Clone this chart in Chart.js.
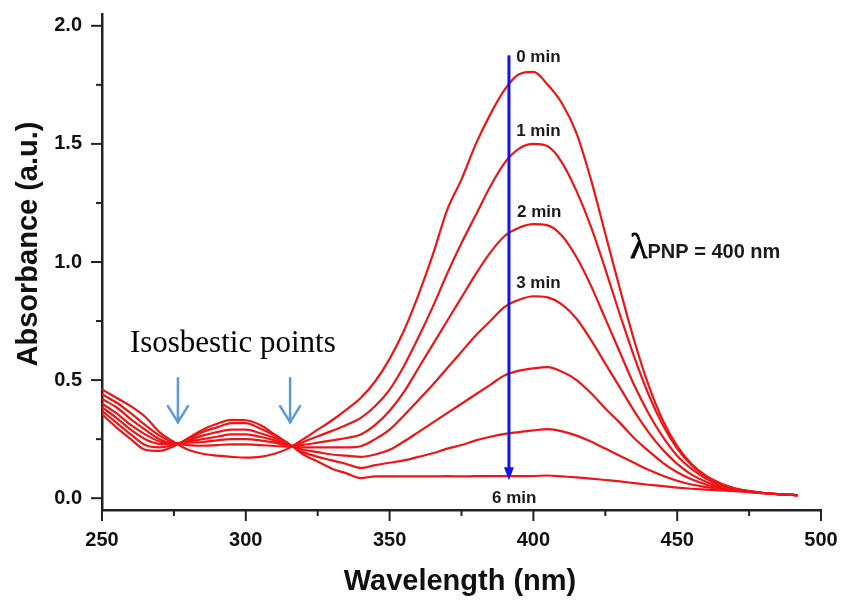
<!DOCTYPE html>
<html>
<head>
<meta charset="utf-8">
<script src="https://cdn.jsdelivr.net/npm/chart.js@4/dist/chart.umd.min.js"></script>
<style>
  html, body { margin: 0; padding: 0; background: #ffffff; }
  #wrap { width: 844px; height: 602px; position: relative; }
</style>
</head>
<body>
<div id="wrap"><canvas id="c" width="844" height="602"></canvas></div>
<script>
// Wavelength grid (nm) shared by all spectra
const wavelengths = [250,255,260,265,270,275,280,285,290,295,300,305,310,315,320,325,330,335,340,345,350,355,360,365,370,375,380,385,390,395,400,405,410,415,420,425,430,435,440,445,450,455,460,465,470,475,480,485,490,492];

// Absorbance spectra recorded during the reduction (a.u.)
const abs0min = [0.46,0.425,0.39,0.345,0.28,0.238,0.205,0.188,0.18,0.175,0.172,0.175,0.188,0.212,0.25,0.29,0.33,0.375,0.425,0.495,0.59,0.71,0.86,1.03,1.22,1.35,1.5,1.625,1.73,1.795,1.805,1.75,1.67,1.545,1.35,1.12,0.89,0.67,0.48,0.33,0.22,0.145,0.095,0.063,0.042,0.03,0.022,0.017,0.014,0.013];
const abs1min = [0.44,0.405,0.36,0.31,0.265,0.235,0.225,0.222,0.225,0.228,0.228,0.225,0.221,0.218,0.238,0.262,0.285,0.31,0.34,0.39,0.46,0.56,0.68,0.81,0.95,1.08,1.2,1.32,1.42,1.48,1.5,1.49,1.42,1.3,1.15,0.97,0.78,0.6,0.44,0.31,0.21,0.14,0.092,0.061,0.041,0.03,0.022,0.017,0.014,0.013];
const abs2min = [0.42,0.385,0.335,0.29,0.25,0.232,0.235,0.238,0.245,0.25,0.25,0.245,0.235,0.222,0.226,0.235,0.245,0.255,0.27,0.31,0.37,0.45,0.55,0.65,0.75,0.85,0.95,1.04,1.11,1.145,1.16,1.155,1.11,1.02,0.9,0.76,0.62,0.48,0.36,0.26,0.18,0.124,0.083,0.056,0.04,0.03,0.022,0.017,0.014,0.013];
const abs3min = [0.40,0.36,0.31,0.27,0.24,0.23,0.24,0.25,0.26,0.27,0.27,0.26,0.245,0.224,0.215,0.215,0.215,0.215,0.22,0.25,0.29,0.35,0.415,0.48,0.55,0.62,0.69,0.75,0.81,0.84,0.855,0.85,0.82,0.76,0.67,0.57,0.47,0.37,0.28,0.205,0.145,0.1,0.07,0.05,0.038,0.029,0.022,0.017,0.014,0.013];
const abs4min = [0.385,0.34,0.29,0.25,0.23,0.228,0.245,0.265,0.28,0.29,0.29,0.275,0.255,0.226,0.205,0.195,0.185,0.18,0.175,0.185,0.205,0.24,0.28,0.32,0.36,0.4,0.44,0.48,0.52,0.54,0.55,0.555,0.535,0.5,0.445,0.38,0.32,0.255,0.2,0.15,0.11,0.08,0.058,0.045,0.036,0.028,0.022,0.017,0.014,0.013];
const abs5min = [0.37,0.32,0.27,0.225,0.215,0.225,0.25,0.28,0.30,0.318,0.318,0.295,0.265,0.228,0.195,0.175,0.16,0.145,0.128,0.14,0.15,0.16,0.175,0.19,0.21,0.225,0.245,0.26,0.272,0.28,0.287,0.292,0.283,0.265,0.24,0.21,0.18,0.15,0.12,0.095,0.074,0.058,0.047,0.04,0.034,0.027,0.021,0.017,0.014,0.013];
const abs6min = [0.355,0.30,0.25,0.205,0.20,0.22,0.255,0.29,0.315,0.332,0.33,0.31,0.27,0.23,0.185,0.155,0.125,0.105,0.085,0.092,0.092,0.092,0.092,0.092,0.093,0.092,0.093,0.093,0.093,0.093,0.094,0.096,0.092,0.088,0.083,0.077,0.071,0.064,0.057,0.051,0.045,0.04,0.036,0.033,0.03,0.026,0.021,0.017,0.014,0.013];

const seriesNames = ['0 min','1 min','2 min','3 min','4 min','5 min','6 min'];
const seriesValues = [abs0min, abs1min, abs2min, abs3min, abs4min, abs5min, abs6min];

// Axis ticks
const xTicks = [250,300,350,400,450,500];
const xMinorTicks = [275,325,375,425,475];
const yTicks = [0.0,0.5,1.0,1.5,2.0];
const yMinorTicks = [0.25,0.75,1.25,1.75];

// Time labels placed beside the curves: [text, wavelength, absorbance at baseline]
const timeLabels = [
  ['0 min', 394.0, 1.847],
  ['1 min', 394.0, 1.534],
  ['2 min', 394.3, 1.191],
  ['3 min', 394.0, 0.890],
  ['6 min', 385.6, -0.022]
];

const RED = 'rgb(236,22,22)';
const INK = '#1a1a1a';
const SANS = '"Liberation Sans", Arial, sans-serif';
const SERIF = '"Liberation Serif", "Times New Roman", serif';

const datasets = seriesValues.map((vals, i) => ({
  label: seriesNames[i],
  data: wavelengths.map((w, j) => ({ x: w, y: vals[j] })),
  borderColor: RED,
  borderWidth: 2.2,
  pointRadius: 0,
  fill: false,
  cubicInterpolationMode: 'monotone'
}));

function arrowDown(ctx, x, yTop, yTip, color, width, open) {
  ctx.save();
  ctx.strokeStyle = color;
  ctx.fillStyle = color;
  ctx.lineWidth = width;
  ctx.lineCap = 'round';
  ctx.beginPath();
  ctx.moveTo(x, yTop);
  ctx.lineTo(x, open ? yTip : yTip - 10);
  ctx.stroke();
  if (open) {
    ctx.beginPath();
    ctx.moveTo(x - 10, yTip - 16);
    ctx.lineTo(x, yTip);
    ctx.lineTo(x + 10, yTip - 16);
    ctx.stroke();
  } else {
    ctx.beginPath();
    ctx.moveTo(x - 5, yTip - 13);
    ctx.lineTo(x + 5, yTip - 13);
    ctx.lineTo(x, yTip);
    ctx.closePath();
    ctx.fill();
  }
  ctx.restore();
}

const decorations = {
  id: 'decorations',
  afterDraw(chart) {
    const ctx = chart.ctx;
    const xs = chart.scales.x, ys = chart.scales.y;
    const area = chart.chartArea;
    ctx.save();
    // tick marks, outward
    ctx.strokeStyle = '#222';
    ctx.lineWidth = 2;
    xTicks.forEach(v => {
      const p = xs.getPixelForValue(v);
      ctx.beginPath(); ctx.moveTo(p, area.bottom); ctx.lineTo(p, area.bottom + 11); ctx.stroke();
    });
    xMinorTicks.forEach(v => {
      const p = xs.getPixelForValue(v);
      ctx.beginPath(); ctx.moveTo(p, area.bottom); ctx.lineTo(p, area.bottom + 6); ctx.stroke();
    });
    yTicks.forEach(v => {
      const p = ys.getPixelForValue(v);
      ctx.beginPath(); ctx.moveTo(area.left, p); ctx.lineTo(area.left - 11, p); ctx.stroke();
    });
    yMinorTicks.forEach(v => {
      const p = ys.getPixelForValue(v);
      ctx.beginPath(); ctx.moveTo(area.left, p); ctx.lineTo(area.left - 6, p); ctx.stroke();
    });

    // axis titles
    ctx.fillStyle = '#111';
    ctx.font = 'bold 29px ' + SANS;
    ctx.textAlign = 'center';
    ctx.textBaseline = 'alphabetic';
    ctx.fillText('Wavelength (nm)', 460, 590);
    ctx.save();
    ctx.translate(37, 244);
    ctx.rotate(-Math.PI / 2);
    ctx.fillText('Absorbance (a.u.)', 0, 0);
    ctx.restore();

    // time arrow at the PNP band
    const ax = xs.getPixelForValue(391.5);
    arrowDown(ctx, ax, ys.getPixelForValue(1.87), ys.getPixelForValue(0.076), '#1212f0', 3, false);

    // isosbestic point markers
    [276.4, 315.4].forEach(w => {
      arrowDown(ctx, xs.getPixelForValue(w), ys.getPixelForValue(0.508), ys.getPixelForValue(0.322), '#5b9bd5', 2.5, true);
    });

    // time labels
    ctx.fillStyle = INK;
    ctx.font = 'bold 17px ' + SANS;
    ctx.textAlign = 'left';
    timeLabels.forEach(([t, w, a]) => {
      ctx.fillText(t, xs.getPixelForValue(w), ys.getPixelForValue(a));
    });

    // annotation texts
    ctx.fillStyle = '#000';
    ctx.font = '31px ' + SERIF;
    ctx.fillText('Isosbestic points', xs.getPixelForValue(259.7), ys.getPixelForValue(0.619));

    const lx = xs.getPixelForValue(433.6), ly = ys.getPixelForValue(1.017);
    ctx.font = '36px ' + SERIF;
    ctx.lineWidth = 0.8;
    ctx.strokeStyle = '#000';
    ctx.fillText('\u03bb', lx, ly);
    ctx.strokeText('\u03bb', lx, ly);
    const lw = ctx.measureText('\u03bb').width;
    ctx.font = 'bold 20px ' + SANS;
    ctx.fillStyle = INK;
    ctx.fillText('PNP = 400 nm', lx + lw, ly);
    ctx.restore();
  }
};

new Chart(document.getElementById('c'), {
  type: 'line',
  data: { datasets },
  options: {
    responsive: false,
    animation: false,
    devicePixelRatio: 1,
    layout: { padding: { top: 14, right: 23, left: 0, bottom: 0 } },
    plugins: { legend: { display: false }, tooltip: { enabled: false } },
    scales: {
      x: {
        type: 'linear', min: 250, max: 500,
        afterBuildTicks: s => { s.ticks = xTicks.map(v => ({ value: v })); },
        afterFit: s => { s.height = 92; s.paddingLeft = 0; s.paddingRight = 0; },
        grid: { display: false },
        border: { display: true, color: '#222', width: 2.5 },
        ticks: { color: '#111', font: { family: SANS, size: 20, weight: 'bold' }, padding: 10, maxRotation: 0, callback: v => String(v) }
      },
      y: {
        type: 'linear', min: -0.05, max: 2.05,
        afterBuildTicks: s => { s.ticks = yTicks.map(v => ({ value: v })); },
        afterFit: s => { s.width = 102; s.paddingTop = 0; s.paddingBottom = 0; },
        grid: { display: false },
        border: { display: true, color: '#222', width: 2.5 },
        ticks: { color: '#111', font: { family: SANS, size: 20, weight: 'bold' }, padding: 12, callback: v => Number(v).toFixed(1) }
      }
    }
  },
  plugins: [decorations]
});
</script>
</body>
</html>
